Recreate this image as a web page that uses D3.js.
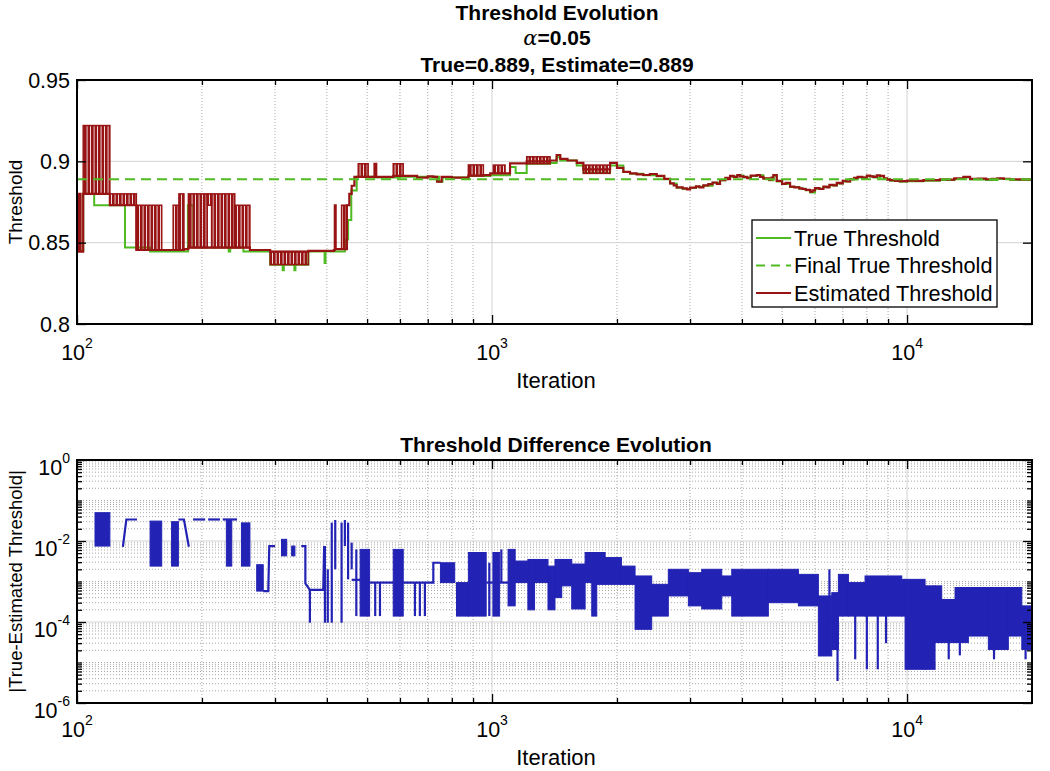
<!DOCTYPE html>
<html>
<head>
<meta charset="utf-8">
<script src="https://cdn.jsdelivr.net/npm/d3@7"></script>
<style>
  body { margin: 0; background: #fff; }
  svg { display: block; font-family: Arial, "Liberation Sans", Helvetica, sans-serif; }
</style>
</head>
<body>
<svg id="chart" width="1050" height="771"></svg>
<script>
// values (iteration, value)
const xDomain = [100, 20000];
const xLabelTicks = [100, 1000, 10000];
const topYTicks = [0.8, 0.85, 0.9, 0.95];
const botYLabelTicks = [1e-6, 1e-4, 1e-2, 1];
const finalTrue = 0.889;

// True Threshold (step after)
const trueThreshold = [
  [100, 0.845], [103.5, 0.880], [110, 0.873], [130.5, 0.847], [150, 0.8445], [185, 0.873],
  [190.7, 0.847], [232, 0.8445], [234, 0.847], [251.7, 0.8445], [292, 0.8365], [313, 0.833],
  [315, 0.8365], [334, 0.833], [336, 0.8365], [361, 0.8445], [395, 0.8375], [397, 0.8445],
  [442, 0.852], [450, 0.864], [458, 0.882], [472, 0.8905], [520, 0.8900], [600, 0.8905],
  [740, 0.8905], [745, 0.8875], [760, 0.8900], [880, 0.8910], [990, 0.8915], [1105, 0.8965],
  [1140, 0.8928], [1212, 0.8985], [1380, 0.8990], [1431, 0.9025], [1460, 0.9005], [1600, 0.8975],
  [1660, 0.8930], [1925, 0.8975], [2072, 0.8935], [2150, 0.8924], [2315, 0.8914], [2494, 0.8908],
  [2600, 0.8890], [2685, 0.8863], [2786, 0.8838], [2880, 0.8830], [3000, 0.8836], [3100, 0.8844],
  [3230, 0.8850], [3400, 0.8868], [3543, 0.8883], [3650, 0.8896], [3746, 0.8906], [3900, 0.8913],
  [4033, 0.8901], [4200, 0.8910], [4343, 0.8914], [4506, 0.8893], [4650, 0.8884], [4764, 0.8912],
  [4853, 0.8876], [5000, 0.8860], [5225, 0.8842], [5500, 0.8832], [5700, 0.8823], [5840, 0.8809],
  [6000, 0.8831], [6286, 0.8842], [6500, 0.8851], [6770, 0.8864], [7000, 0.8876], [7290, 0.8888],
  [7600, 0.8901], [8000, 0.8908], [8300, 0.8901], [8606, 0.8906], [8800, 0.8891], [9100, 0.8881],
  [9600, 0.8874], [10000, 0.8878], [10950, 0.8881], [12000, 0.8886], [13000, 0.8891], [13670, 0.8901],
  [14185, 0.8888], [15500, 0.8886], [16500, 0.8892], [17700, 0.8886], [20000, 0.8887]
];

// Estimated Threshold (step after)
const estThreshold = [
  [100, 0.8445], [101, 0.880], [102, 0.8445], [103.5, 0.880], [120, 0.873], [139, 0.8455],
  [160, 0.8455], [181, 0.8460], [185.5, 0.8470], [261, 0.8455], [292, 0.8445], [361, 0.8450],
  [416, 0.8455], [418, 0.873], [420, 0.8460], [434, 0.8460], [447, 0.873], [453, 0.880],
  [459, 0.885], [466, 0.8905], [521, 0.8985], [526, 0.8905], [578, 0.8910], [660, 0.8900],
  [700, 0.8908], [722, 0.8905], [737, 0.8875], [756, 0.8905], [800, 0.8900], [877, 0.8912],
  [953, 0.8915], [990, 0.8926], [1105, 0.8988], [1212, 0.9000], [1380, 0.9005], [1431, 0.9039],
  [1460, 0.9015], [1520, 0.9005], [1600, 0.8990], [1660, 0.8950], [1925, 0.8990], [2000, 0.8960],
  [2072, 0.8935], [2150, 0.8926], [2230, 0.8920], [2315, 0.8916], [2400, 0.8922], [2494, 0.8910],
  [2600, 0.8892], [2685, 0.8865], [2740, 0.8852], [2786, 0.8840], [2880, 0.8834], [2950, 0.8828],
  [3000, 0.8838], [3100, 0.8846], [3160, 0.8840], [3230, 0.8852], [3320, 0.8860], [3400, 0.8870],
  [3480, 0.8862], [3543, 0.8885], [3650, 0.8898], [3700, 0.8890], [3746, 0.8910], [3820, 0.8904],
  [3900, 0.8915], [3960, 0.8908], [4033, 0.8905], [4120, 0.8896], [4200, 0.8912], [4343, 0.8916],
  [4420, 0.8905], [4506, 0.8895], [4650, 0.8888], [4710, 0.8900], [4764, 0.8916], [4853, 0.8880],
  [5000, 0.8862], [5100, 0.8868], [5225, 0.8844], [5350, 0.8840], [5500, 0.8834], [5600, 0.8830],
  [5700, 0.8825], [5840, 0.8813], [5920, 0.8822], [6000, 0.8835], [6150, 0.8830], [6286, 0.8844],
  [6400, 0.8840], [6500, 0.8855], [6650, 0.8852], [6770, 0.8868], [6900, 0.8865], [7000, 0.8880],
  [7150, 0.8876], [7290, 0.8890], [7450, 0.8898], [7600, 0.8905], [7800, 0.8900], [8000, 0.8912],
  [8150, 0.8908], [8300, 0.8905], [8450, 0.8914], [8606, 0.8910], [8800, 0.8895], [8950, 0.8888],
  [9100, 0.8885], [9350, 0.8880], [9600, 0.8878], [10000, 0.8882], [10500, 0.8880], [10950, 0.8885],
  [11500, 0.8884], [12000, 0.8890], [12500, 0.8888], [13000, 0.8895], [13670, 0.8905], [14185, 0.8892],
  [14800, 0.8894], [15500, 0.8890], [16000, 0.8893], [16500, 0.8896], [17100, 0.8892], [17700, 0.8890],
  [18500, 0.8889], [20000, 0.8889]
];

// ranges where the estimate flips every iteration: [from, to, low, high]
const estBands = [
  [103.5, 120, 0.880, 0.922], [120, 139, 0.873, 0.880], [139, 160, 0.8455, 0.873],
  [170.5, 176, 0.8455, 0.873], [176, 181, 0.8455, 0.880], [185.5, 206, 0.847, 0.880],
  [206, 211, 0.873, 0.880], [211, 240, 0.847, 0.880], [240, 261, 0.847, 0.873],
  [292, 361, 0.8365, 0.8445], [434, 447, 0.846, 0.873], [476, 503, 0.8905, 0.8985],
  [578, 611, 0.8910, 0.8985], [877, 953, 0.8912, 0.8978], [1007, 1075, 0.8926, 0.8977],
  [1212, 1380, 0.8985, 0.9028], [1660, 1925, 0.8926, 0.8977]
];

// |True - Estimated|: plain pieces, flip ranges and single spikes
const diffPieces = [
  [[129, 0.0072], [131.5, 0.034], [139.5, 0.034]],
  [[175.5, 0.034], [181, 0.034], [186, 0.0072]],
  [[190.4, 0.034], [203.6, 0.034]],
  [[207, 0.034], [221, 0.034]],
  [[224.5, 0.034], [243, 0.034]],
  [[281, 0.00058], [289, 0.00058], [290.6, 0.0075], [300, 0.0075]],
  [[347, 0.0075], [355, 0.0075], [355, 0.0009], [364, 0.00062], [392, 0.00062], [394, 0.0075]],
  [[459, 0.0011], [481, 0.0011]],
  [[507, 0.00094], [578, 0.00094]],
  [[611, 0.00094], [722, 0.00094], [722, 0.0029], [751, 0.0029]],
  [[968, 0.00094], [1005, 0.00094]],
  [[1043, 0.00094], [1093, 0.00094]]
];
const diffBands = [
  [110.5, 120, 0.0075, 0.050], [150, 160, 0.0024, 0.031], [169, 175.5, 0.0024, 0.030],
  [229, 236, 0.0024, 0.034], [249, 261, 0.0024, 0.028], [271, 281, 0.00058, 0.0026],
  [311, 320, 0.0043, 0.011], [329, 335, 0.0043, 0.0075], [481, 507, 0.00014, 0.0062],
  [578, 611, 0.00014, 0.0062], [751, 813, 0.00094, 0.0029], [821, 877, 0.00014, 0.00094],
  [877, 968, 0.00014, 0.0052], [1005, 1043, 0.00014, 0.0052], [1093, 1137, 0.00025, 0.0062],
  [1137, 1220, 0.00094, 0.0032], [1220, 1266, 0.0002, 0.0035], [1266, 1364, 0.00094, 0.0035],
  [1364, 1418, 0.0002, 0.0024], [1418, 1472, 0.0004, 0.0035], [1472, 1556, 0.00078, 0.0035],
  [1556, 1676, 0.00021, 0.0027], [1676, 1739, 0.00094, 0.0052], [1739, 1788, 0.00014, 0.0052],
  [1788, 1873, 0.00085, 0.0052], [1873, 2050, 0.00085, 0.0039], [2050, 2211, 0.00085, 0.0024],
  [2211, 2425, 0.000066, 0.00137], [2425, 2659, 0.00014, 0.00085], [2659, 2972, 0.00044, 0.0020],
  [2972, 3201, 0.00025, 0.00165], [3201, 3577, 0.00021, 0.0020], [3577, 3781, 0.00044, 0.00137],
  [3781, 4632, 0.00014, 0.0020], [4632, 5472, 0.00030, 0.0020], [5472, 6113, 0.00025, 0.0015],
  [6113, 6585, 0.0000145, 0.00044], [6585, 6832, 0.000021, 0.00053], [6832, 7222, 0.00014, 0.0015],
  [7222, 7920, 0.00014, 0.00094], [7920, 9710, 0.00014, 0.00137], [9710, 9890, 0.00014, 0.00113],
  [9890, 11050, 0.0000068, 0.00113], [11050, 11680, 0.0000068, 0.00078], [11680, 12120, 0.000031, 0.00078],
  [12120, 13050, 0.000031, 0.00036], [13050, 14050, 0.000031, 0.00071], [14050, 15700, 0.000045, 0.00071],
  [15700, 17540, 0.000021, 0.00071], [17540, 18900, 0.000045, 0.00071], [18900, 20000, 0.000021, 0.00025]
];
const diffSpikes = [
  [364, 0.000096, 0.00062], [395.7, 0.000096, 0.0075], [402, 0.000096, 0.002], [411, 0.000096, 0.0284],
  [419, 0.002, 0.033], [434, 0.000096, 0.0284], [442, 0.0075, 0.033], [450, 0.00113, 0.0284],
  [459, 0.002, 0.0091], [471, 0.00014, 0.0062], [523, 0.00014, 0.00094], [537, 0.00014, 0.00094],
  [652, 0.00014, 0.00094], [670, 0.00014, 0.00094], [689, 0.00014, 0.00094], [985, 0.00014, 0.0029],
  [1053, 0.00094, 0.0062], [6500, 0.0004, 0.0020], [6800, 0.0000035, 0.0005], [7500, 0.000012, 0.0003],
  [8000, 0.0000068, 0.0003], [8500, 0.0000068, 0.0003], [8900, 0.00003, 0.0003], [12600, 0.000012, 0.0002],
  [13400, 0.000015, 0.0002], [16200, 0.000012, 0.0002], [19300, 0.000012, 0.0002]
];

const GREEN = '#4fbb22';
const RED = '#981414';
const BLUE = '#2222b4';
const left = 77, right = 1032;
const topBox = [80, 324];
const botBox = [460, 703];

const svg = d3.select('#chart');

// fine vertical stripes for the ranges where the estimate flips back and forth
svg.append('defs').append('pattern')
  .attr('id', 'flip').attr('patternUnits', 'userSpaceOnUse').attr('width', 3.5).attr('height', 6)
  .append('rect').attr('width', 2.7).attr('height', 6).attr('fill', RED);

const x = d3.scaleLog().domain(xDomain).range([left, right]);
const yTop = d3.scaleLinear().domain([0.8, 0.95]).range([topBox[1], topBox[0]]);
const yBot = d3.scaleLog().domain([1e-6, 1]).range([botBox[1], botBox[0]]);

const isDecade = (t) => Math.abs(Math.log10(t) - Math.round(Math.log10(t))) < 1e-9;
const xMinor = x.ticks().filter((t) => !xLabelTicks.includes(t) && t > xDomain[0] && t < xDomain[1]);
const botMajor = botYLabelTicks;
const botMinor = yBot.ticks().filter((t) => !(isDecade(t) && Math.round(Math.log10(t)) % 2 === 0));

// grids
function drawGrid(y, box, yMajor, yMinor) {
  const g = svg.append('g');
  g.selectAll('.vminor').data(xMinor).join('line')
    .attr('x1', (d) => x(d)).attr('x2', (d) => x(d)).attr('y1', box[0]).attr('y2', box[1])
    .attr('stroke', '#a8a8a8').attr('stroke-width', 1).attr('stroke-dasharray', '1,2');
  g.selectAll('.hminor').data(yMinor).join('line')
    .attr('x1', left).attr('x2', right).attr('y1', (d) => y(d)).attr('y2', (d) => y(d))
    .attr('stroke', '#a8a8a8').attr('stroke-width', 1).attr('stroke-dasharray', '1,2');
  g.selectAll('.vmajor').data(xLabelTicks.slice(1)).join('line')
    .attr('x1', (d) => x(d)).attr('x2', (d) => x(d)).attr('y1', box[0]).attr('y2', box[1])
    .attr('stroke', '#d2d2d2').attr('stroke-width', 1);
  g.selectAll('.hmajor').data(yMajor).join('line')
    .attr('x1', left).attr('x2', right).attr('y1', (d) => y(d)).attr('y2', (d) => y(d))
    .attr('stroke', '#d2d2d2').attr('stroke-width', 1);
}

// ticks pointing inward and the box
function drawAxes(y, box, yMajor, yMinor) {
  const g = svg.append('g');
  const axes = [
    [d3.axisBottom(x).tickValues(xLabelTicks).tickSize(-9), `translate(0,${box[1]})`],
    [d3.axisBottom(x).tickValues(xMinor).tickSize(-5), `translate(0,${box[1]})`],
    [d3.axisTop(x).tickValues(xLabelTicks).tickSize(-9), `translate(0,${box[0]})`],
    [d3.axisTop(x).tickValues(xMinor).tickSize(-5), `translate(0,${box[0]})`],
    [d3.axisLeft(y).tickValues(yMajor).tickSize(-9), `translate(${left},0)`],
    [d3.axisRight(y).tickValues(yMajor).tickSize(-9), `translate(${right},0)`],
    [d3.axisLeft(y).tickValues(yMinor).tickSize(-5), `translate(${left},0)`],
    [d3.axisRight(y).tickValues(yMinor).tickSize(-5), `translate(${right},0)`]
  ];
  axes.forEach(([a, tr]) => {
    const s = g.append('g').attr('transform', tr).call(a.tickFormat(''));
    s.select('.domain').remove();
    s.selectAll('line').attr('stroke', '#000').attr('stroke-width', 1.3);
  });
  g.append('rect')
    .attr('x', left).attr('y', box[0]).attr('width', right - left).attr('height', box[1] - box[0])
    .attr('fill', 'none').attr('stroke', '#000').attr('stroke-width', 2);
}

function powLabel(g, px, py, exp, anchor) {
  const t = g.append('text').attr('x', px).attr('y', py).attr('text-anchor', anchor).attr('font-size', 21.5);
  t.append('tspan').text('10');
  t.append('tspan').attr('dy', -12).attr('font-size', 14).text(exp);
}

// ---------- top panel ----------
drawGrid(yTop, topBox, [0.85, 0.9], []);

const stepLine = (y) => d3.line().x((d) => x(d[0])).y((d) => y(d[1])).curve(d3.curveStepAfter);

svg.append('path').datum(trueThreshold)
  .attr('d', stepLine(yTop)).attr('fill', 'none').attr('stroke', GREEN).attr('stroke-width', 2);

svg.append('g').selectAll('rect').data(estBands).join('rect')
  .attr('x', (d) => x(d[0])).attr('width', (d) => x(d[1]) - x(d[0]))
  .attr('y', (d) => yTop(d[3])).attr('height', (d) => yTop(d[2]) - yTop(d[3]))
  .attr('fill', 'url(#flip)').attr('stroke', RED).attr('stroke-width', 1.5);

svg.append('path').datum(estThreshold)
  .attr('d', stepLine(yTop)).attr('fill', 'none').attr('stroke', RED).attr('stroke-width', 2.2);

svg.append('line')
  .attr('x1', left).attr('x2', right).attr('y1', yTop(finalTrue)).attr('y2', yTop(finalTrue))
  .attr('stroke', GREEN).attr('stroke-width', 2).attr('stroke-dasharray', '10,6');

drawAxes(yTop, topBox, topYTicks, []);

const topLabels = svg.append('g').attr('fill', '#000');
topYTicks.forEach((t) => {
  topLabels.append('text').attr('x', 70).attr('y', yTop(t) + 7.5).attr('text-anchor', 'end')
    .attr('font-size', 21.5).text(d3.format('')(t));
});
xLabelTicks.forEach((t) => powLabel(topLabels, x(t), 360, Math.round(Math.log10(t)), 'middle'));
topLabels.append('text').attr('x', 556).attr('y', 388).attr('text-anchor', 'middle')
  .attr('font-size', 22).text('Iteration');
topLabels.append('text').attr('transform', `translate(22,${(topBox[0] + topBox[1]) / 2}) rotate(-90)`)
  .attr('text-anchor', 'middle').attr('font-size', 19).text('Threshold');

// titles
const title = svg.append('g').attr('font-weight', 'bold').attr('font-size', 21).attr('text-anchor', 'middle');
title.append('text').attr('x', 557).attr('y', 19.5).text('Threshold Evolution');
const alphaLine = title.append('text').attr('x', 557).attr('y', 45);
alphaLine.append('tspan').attr('font-family', '"DejaVu Serif", serif').attr('font-style', 'italic')
  .attr('font-weight', 'normal').text('α');
alphaLine.append('tspan').text('=0.05');
title.append('text').attr('x', 557).attr('y', 72).text('True=0.889, Estimate=0.889');

// legend
const legendItems = [
  { label: 'True Threshold', color: GREEN, dash: null },
  { label: 'Final True Threshold', color: GREEN, dash: '9,6' },
  { label: 'Estimated Threshold', color: RED, dash: null }
];
const lg = svg.append('g').attr('transform', 'translate(752,220)');
lg.append('rect').attr('width', 245).attr('height', 87).attr('fill', '#fff')
  .attr('stroke', '#000').attr('stroke-width', 1.3);
legendItems.forEach((it, i) => {
  const cy = 18 + i * 27.5;
  lg.append('line').attr('x1', 4).attr('x2', 39).attr('y1', cy).attr('y2', cy)
    .attr('stroke', it.color).attr('stroke-width', 2).attr('stroke-dasharray', it.dash);
  lg.append('text').attr('x', 42).attr('y', cy + 7.5).attr('font-size', 21.7).text(it.label);
});

// ---------- bottom panel ----------
drawGrid(yBot, botBox, [1e-4, 1e-2], botMinor);

const bot = svg.append('g');
bot.selectAll('rect').data(diffBands).join('rect')
  .attr('x', (d) => x(d[0])).attr('width', (d) => x(d[1]) - x(d[0]))
  .attr('y', (d) => yBot(d[3])).attr('height', (d) => yBot(d[2]) - yBot(d[3]))
  .attr('fill', BLUE).attr('stroke', BLUE).attr('stroke-width', 1);
bot.selectAll('line').data(diffSpikes).join('line')
  .attr('x1', (d) => x(d[0])).attr('x2', (d) => x(d[0]))
  .attr('y1', (d) => yBot(d[1])).attr('y2', (d) => yBot(d[2]))
  .attr('stroke', BLUE).attr('stroke-width', 2.2);
bot.selectAll('path').data(diffPieces).join('path')
  .attr('d', d3.line().x((d) => x(d[0])).y((d) => yBot(d[1])))
  .attr('fill', 'none').attr('stroke', BLUE).attr('stroke-width', 2.2);

drawAxes(yBot, botBox, botMajor, botMinor);

const botLabels = svg.append('g').attr('fill', '#000');
botYLabelTicks.forEach((t) => powLabel(botLabels, 70, yBot(t) + 14.5, Math.round(Math.log10(t)), 'end'));
xLabelTicks.forEach((t) => powLabel(botLabels, x(t), 737, Math.round(Math.log10(t)), 'middle'));
botLabels.append('text').attr('x', 556).attr('y', 765).attr('text-anchor', 'middle')
  .attr('font-size', 22).text('Iteration');
botLabels.append('text').attr('transform', `translate(22,${(botBox[0] + botBox[1]) / 2}) rotate(-90)`)
  .attr('text-anchor', 'middle').attr('font-size', 18.5).text('|True-Estimated Threshold|');
botLabels.append('text').attr('x', 556).attr('y', 452).attr('text-anchor', 'middle')
  .attr('font-size', 21).attr('font-weight', 'bold').text('Threshold Difference Evolution');
</script>
</body>
</html>
